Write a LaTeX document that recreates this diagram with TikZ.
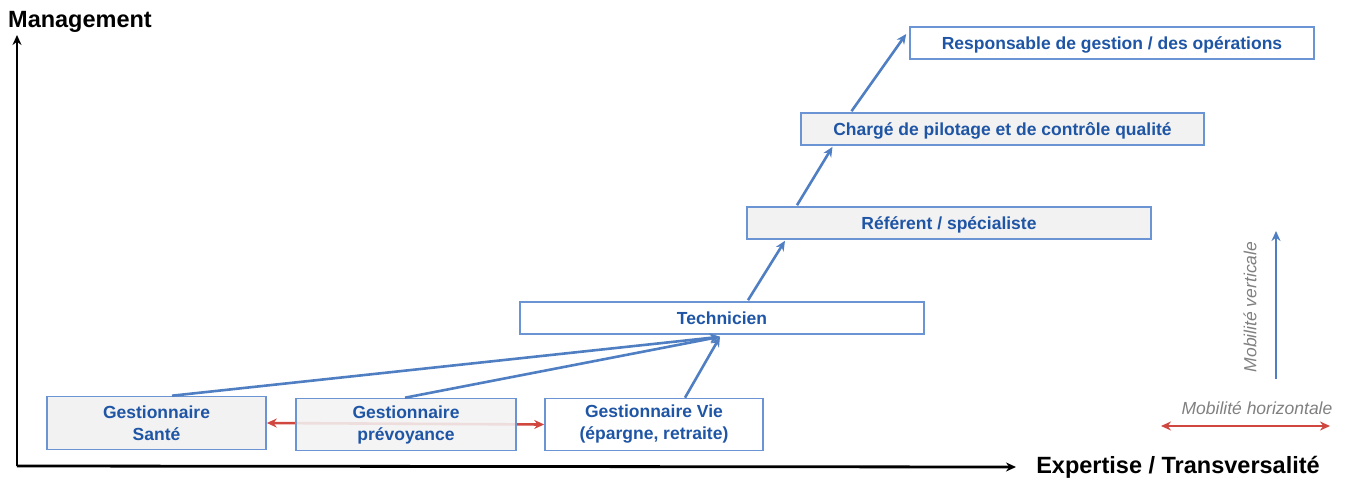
\documentclass[tikz,border=0pt]{standalone}
\usepackage{fontspec}
\setmainfont{Liberation Sans}
\usetikzlibrary{arrows.meta,calc}
\definecolor{boxblue}{HTML}{6A94D4}
\definecolor{txtblue}{HTML}{1F55A5}
\definecolor{arrblue}{HTML}{4F7FC2}
\definecolor{arrred}{HTML}{D0473F}
\definecolor{boxgray}{HTML}{F2F2F2}
\definecolor{legray}{HTML}{808080}
\tikzset{
  job/.style={draw=boxblue, line width=1.6pt, inner sep=0pt, align=center,
    text=txtblue, font=\fontsize{17.5}{22}\selectfont\bfseries},
  grayjob/.style={job, fill=boxgray},
  whitejob/.style={job, fill=white},
  oneline/.style={text height=17pt, text depth=4pt},
  uparrow/.style={draw=arrblue, line width=2.6pt, -{Stealth[length=10pt,width=9pt]}},
  redarrow/.style={draw=arrred, line width=2.6pt, {Stealth[length=10pt,width=9pt]}-{Stealth[length=10pt,width=9pt]}},
  axis/.style={draw=black, line width=2.8pt, -{Stealth[length=10pt,width=9pt]}},
  axislabel/.style={font=\fontsize{23.5}{28}\selectfont\bfseries, inner sep=0pt},
  legend/.style={text=legray, font=\fontsize{17.5}{20}\selectfont\itshape, inner sep=0pt}
}
\begin{document}
\begin{tikzpicture}[x=1pt,y=-1pt]
\useasboundingbox (0,0) rectangle (1346,479);
% axes
\coordinate (origin) at (17,466);
\coordinate (ytop) at (17,35);
\coordinate (xend) at (1016,467);
\draw[axis] (origin) -- (ytop);
\draw[axis] (origin) -- (xend);
\node[axislabel] (mgmt) at (80,22) {Management};
\node[axislabel] (expt) at (1178,467) {Expertise / Transversalité};
% boxes of the bottom row and red horizontal mobility (behind prévoyance)
\node[grayjob, minimum width=219pt, minimum height=53pt] (sante) at (156.5,423) {Gestionnaire\\Santé};
\node[whitejob, minimum width=218pt, minimum height=52pt] (vie) at (654,424.5) {Gestionnaire Vie\\(épargne, retraite)};
\draw[redarrow] (sante.east) -- (vie.west);
\node[job, fill=boxgray, fill opacity=0.88, text opacity=1, minimum width=220pt, minimum height=52pt] (prev) at (406,424.5) {Gestionnaire\\prévoyance};
% upper boxes
\node[whitejob, oneline, minimum width=404pt, minimum height=32pt] (tech) at (722,318) {Technicien};
\node[grayjob, oneline, minimum width=404pt, minimum height=32pt] (ref) at (949,223) {Référent / spécialiste};
\node[grayjob, oneline, minimum width=403pt, minimum height=32pt] (charge) at (1002.5,129) {Chargé de pilotage et de contrôle qualité};
\node[whitejob, oneline, minimum width=404pt, minimum height=32pt] (resp) at (1112,43) {Responsable de gestion / des opérations};
% vertical mobility arrows
\draw[uparrow] ([xshift=15.5pt]sante.north) -- ([xshift=-2pt,yshift=-2pt]tech.south);
\draw[uparrow] ([xshift=-1pt]prev.north) -- ([xshift=-2pt,yshift=-2pt]tech.south);
\draw[uparrow] ([xshift=31pt]vie.north) -- ([xshift=-2pt,yshift=-2pt]tech.south);
\draw[uparrow] ([xshift=26pt,yshift=1pt]tech.north) -- ([xshift=-164pt,yshift=-1pt]ref.south);
\draw[uparrow] ([xshift=-152pt,yshift=1pt]ref.north) -- ([xshift=-170pt,yshift=-1pt]charge.south);
\draw[uparrow] ([xshift=-151pt,yshift=1pt]charge.north) -- ([xshift=-3pt,yshift=9pt]resp.west);
% legend
\coordinate (vlow) at (1276,379);
\coordinate (vhigh) at (1276,231);
\draw[uparrow] (vlow) -- (vhigh);
\node[legend, rotate=90] (vlab) at (1250,307) {Mobilité verticale};
\coordinate (hleft) at (1161,426);
\coordinate (hright) at (1330,426);
\draw[redarrow] (hleft) -- (hright);
\node[legend] (hlab) at (1257,408) {Mobilité horizontale};
\end{tikzpicture}
\end{document}
